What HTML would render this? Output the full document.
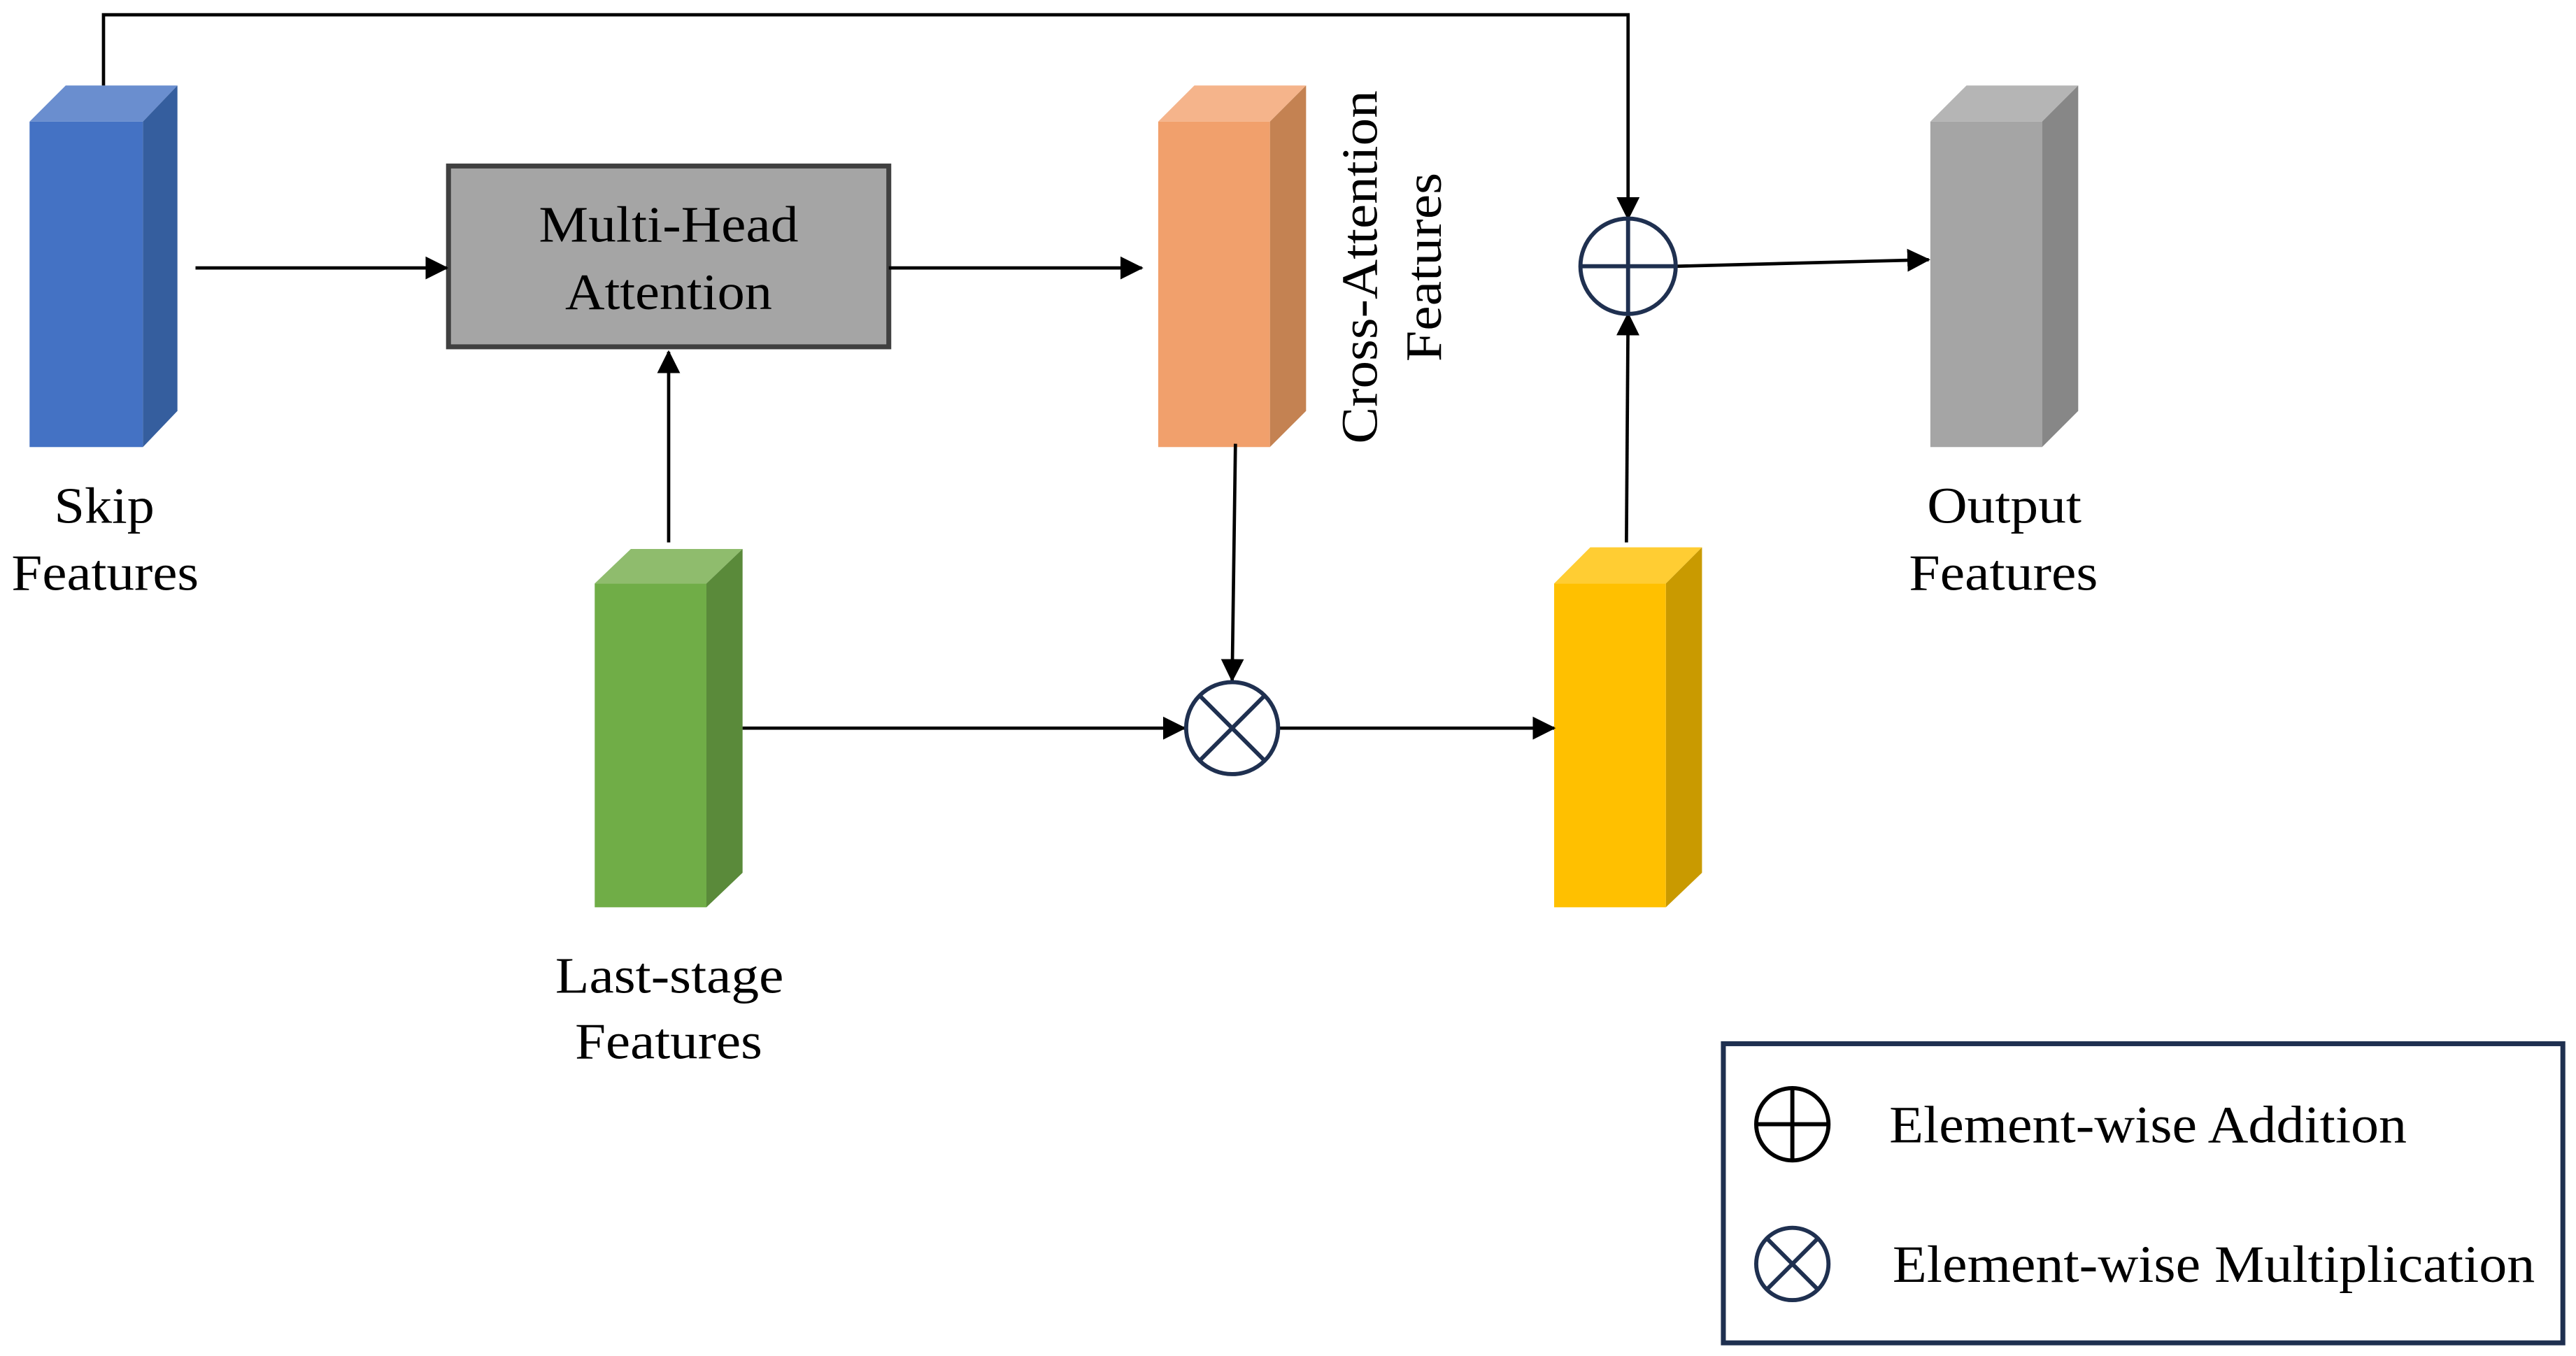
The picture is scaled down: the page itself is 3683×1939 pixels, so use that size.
<!DOCTYPE html>
<html><head><meta charset="utf-8"><style>
html,body{margin:0;padding:0;background:#fff;}
svg{display:block;}
text{font-family:"Liberation Serif","Times New Roman",serif;fill:#000;}
</style></head><body>
<svg width="3683" height="1939" viewBox="0 0 1568 825" preserveAspectRatio="none" xmlns="http://www.w3.org/2000/svg">
<defs>
<marker id="a" markerWidth="14" markerHeight="14" refX="13" refY="7" orient="auto" markerUnits="userSpaceOnUse">
<path d="M0,0 L14,7 L0,14 z" fill="#000"/></marker>
</defs>
<polygon points="18,74 40,52 108,52 87,74" fill="#6a8ecf"/>
<polygon points="87,74 108,52 108,250 87,272" fill="#355e9e"/>
<rect x="18" y="74" width="69" height="198" fill="#4472c4"/>
<polygon points="362,355 384,334 452,334 430,355" fill="#8fbc6d"/>
<polygon points="430,355 452,334 452,531 430,552" fill="#5a8a3a"/>
<rect x="362" y="355" width="68" height="197" fill="#70ad47"/>
<polygon points="705,74 727,52 795,52 773,74" fill="#f5b48b"/>
<polygon points="773,74 795,52 795,250 773,272" fill="#c48252"/>
<rect x="705" y="74" width="68" height="198" fill="#f1a06c"/>
<polygon points="946,355 968,333 1036,333 1014,355" fill="#ffcd33"/>
<polygon points="1014,355 1036,333 1036,531 1014,552" fill="#c99a00"/>
<rect x="946" y="355" width="68" height="197" fill="#ffc000"/>
<polygon points="1175,74 1197,52 1265,52 1243,74" fill="#b5b5b5"/>
<polygon points="1243,74 1265,52 1265,250 1243,272" fill="#878787"/>
<rect x="1175" y="74" width="68" height="198" fill="#a5a5a5"/>
<rect x="273" y="101" width="268" height="110" fill="#a5a5a5" stroke="#404040" stroke-width="3"/>
<text x="328" y="147" font-size="31" textLength="158" lengthAdjust="spacingAndGlyphs">Multi-Head</text>
<text x="344" y="188" font-size="31" textLength="126" lengthAdjust="spacingAndGlyphs">Attention</text>
<g stroke="#000" stroke-width="2" fill="none">
<polyline points="63,52 63,9 991,9 991,133" marker-end="url(#a)"/>
<line x1="119" y1="163" x2="272" y2="163" marker-end="url(#a)"/>
<line x1="541" y1="163" x2="695" y2="163" marker-end="url(#a)"/>
<line x1="407" y1="330" x2="407" y2="214" marker-end="url(#a)"/>
<line x1="752" y1="270" x2="750" y2="414" marker-end="url(#a)"/>
<line x1="452" y1="443" x2="721" y2="443" marker-end="url(#a)"/>
<line x1="779" y1="443" x2="946" y2="443" marker-end="url(#a)"/>
<line x1="990" y1="330" x2="991" y2="191" marker-end="url(#a)"/>
<line x1="1020" y1="162" x2="1174" y2="158" marker-end="url(#a)"/>
</g>
<g stroke="#1f3050" stroke-width="2.5" fill="#fff">
<ellipse cx="991" cy="162" rx="29" ry="29"/>
<line x1="962" y1="162" x2="1020" y2="162"/>
<line x1="991" y1="133" x2="991" y2="191"/>
</g>
<g stroke="#1f3050" stroke-width="2.5" fill="#fff">
<ellipse cx="750" cy="443" rx="28" ry="28"/>
<line x1="730" y1="423" x2="770" y2="463"/>
<line x1="770" y1="423" x2="730" y2="463"/>
</g>
<g font-size="31" lengthAdjust="spacingAndGlyphs">
<text x="33" y="318" textLength="61" lengthAdjust="spacingAndGlyphs">Skip</text>
<text x="7" y="359" textLength="114" lengthAdjust="spacingAndGlyphs">Features</text>
<text x="338" y="604" textLength="139" lengthAdjust="spacingAndGlyphs">Last-stage</text>
<text x="350" y="644" textLength="114" lengthAdjust="spacingAndGlyphs">Features</text>
<text x="1173" y="318" textLength="94" lengthAdjust="spacingAndGlyphs">Output</text>
<text x="1162" y="359" textLength="115" lengthAdjust="spacingAndGlyphs">Features</text>
<text transform="translate(838,270) rotate(-90)" textLength="215" lengthAdjust="spacingAndGlyphs">Cross-Attention</text>
<text transform="translate(877,220) rotate(-90)" textLength="115" lengthAdjust="spacingAndGlyphs">Features</text>
</g>
<rect x="1049" y="635" width="511" height="182" fill="none" stroke="#1f3050" stroke-width="3"/>
<g stroke="#000" stroke-width="2.5" fill="none">
<ellipse cx="1091" cy="684" rx="22" ry="22"/>
<line x1="1069" y1="684" x2="1113" y2="684"/>
<line x1="1091" y1="662" x2="1091" y2="706"/>
</g>
<g stroke="#1f3050" stroke-width="2.5" fill="none">
<ellipse cx="1091" cy="769" rx="22" ry="22"/>
<line x1="1076" y1="754" x2="1106" y2="784"/>
<line x1="1106" y1="754" x2="1076" y2="784"/>
</g>
<text x="1150" y="695" font-size="32" textLength="315" lengthAdjust="spacingAndGlyphs">Element-wise Addition</text>
<text x="1152" y="780" font-size="32" textLength="391" lengthAdjust="spacingAndGlyphs">Element-wise Multiplication</text>
</svg>
</body></html>
